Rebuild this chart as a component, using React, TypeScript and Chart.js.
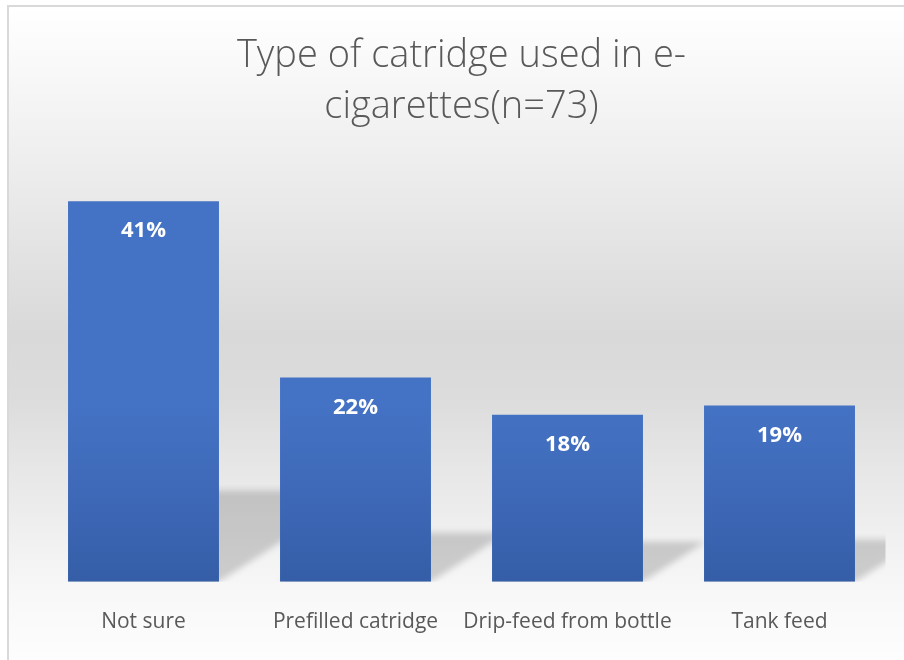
import React, { useEffect, useRef } from "react";
import { Chart, registerables } from "chart.js";

Chart.register(...registerables);

const categories = ["Not sure", "Prefilled catridge", "Drip-feed from bottle", "Tank feed"];
const values = [41, 22, 18, 19];
const valueLabels = ["41%", "22%", "18%", "19%"];
const titleLines = ["Type of catridge used in e-", "cigarettes(n=73)"];
const axisMax = 45;

const FONT = "'Open Sans', 'Noto Sans', sans-serif";

const backgroundPlugin = {
  id: "bgPlugin",
  beforeDraw(chart: any) {
    const { ctx, width, height } = chart;
    ctx.save();
    ctx.fillStyle = "#ffffff";
    ctx.fillRect(0, 0, width, height);
    const g = ctx.createLinearGradient(0, 6, 0, height);
    g.addColorStop(0, "#ffffff");
    g.addColorStop(0.06, "#fbfbfb");
    g.addColorStop(0.26, "#ececec");
    g.addColorStop(0.5, "#d9d9d9");
    g.addColorStop(0.6, "#dcdcdc");
    g.addColorStop(0.7, "#e6e6e6");
    g.addColorStop(0.9, "#f8f8f8");
    g.addColorStop(1, "#fdfdfd");
    ctx.fillStyle = g;
    ctx.fillRect(8, 6, width - 8, height - 6);
    ctx.strokeStyle = "#d9d9d9";
    ctx.lineWidth = 2;
    ctx.beginPath();
    ctx.moveTo(8, height);
    ctx.lineTo(8, 6);
    ctx.lineTo(width, 6);
    ctx.stroke();
    ctx.restore();
  },
};

const shadowPlugin = {
  id: "shadowPlugin",
  beforeDatasetsDraw(chart: any) {
    const { ctx, chartArea } = chart;
    const meta = chart.getDatasetMeta(0);
    ctx.save();
    ctx.beginPath();
    ctx.rect(chartArea.left, chartArea.top, chartArea.right - chartArea.left, chartArea.bottom - chartArea.top);
    ctx.clip();
    ctx.filter = "blur(3px)";
    ctx.fillStyle = "rgba(0,0,0,0.17)";
    meta.data.forEach((el: any) => {
      const p = el.getProps(["x", "y", "base", "width"], true);
      const left = p.x - p.width / 2;
      const right = p.x + p.width / 2;
      const h = p.base - p.y;
      const sh = h * 0.24;
      const dx = sh * 1.55;
      ctx.beginPath();
      ctx.moveTo(left, p.base);
      ctx.lineTo(right, p.base);
      ctx.lineTo(right + dx, p.base - sh);
      ctx.lineTo(left + dx, p.base - sh);
      ctx.closePath();
      ctx.fill();
    });
    ctx.restore();
    meta.data.forEach((el: any) => {
      const p = el.getProps(["y", "base"], true);
      const g = ctx.createLinearGradient(0, p.y, 0, p.base);
      g.addColorStop(0, "#4472c4");
      g.addColorStop(0.45, "#3f6ab9");
      g.addColorStop(1, "#355ea7");
      el.options.backgroundColor = g;
    });
  },
};

const labelPlugin = {
  id: "labelPlugin",
  afterDatasetsDraw(chart: any) {
    const { ctx } = chart;
    const meta = chart.getDatasetMeta(0);
    ctx.save();
    ctx.fillStyle = "#ffffff";
    ctx.font = `bold 22px ${FONT}`;
    ctx.textAlign = "center";
    ctx.textBaseline = "middle";
    meta.data.forEach((el: any, i: number) => {
      const p = el.getProps(["x", "y"], true);
      ctx.fillText(valueLabels[i], p.x, p.y + 30);
    });
    ctx.restore();
  },
};

export default function App() {
  const ref = useRef<HTMLCanvasElement | null>(null);
  useEffect(() => {
    if (!ref.current) return;
    const chart = new Chart(ref.current, {
      type: "bar",
      data: {
        labels: categories,
        datasets: [
          {
            data: values,
            backgroundColor: "#4472c4",
            borderWidth: 0,
            barPercentage: 0.712,
            categoryPercentage: 1,
          },
        ],
      },
      options: {
        animation: false,
        responsive: false,
        maintainAspectRatio: false,
        devicePixelRatio: 1,
        layout: { padding: { left: 37.5, right: 18.5, top: 0, bottom: -3 } },
        plugins: {
          legend: { display: false },
          tooltip: { enabled: false },
          title: {
            display: true,
            text: titleLines,
            color: "#595959",
            font: { family: FONT, size: 38, weight: "300", lineHeight: 51 / 38 },
            padding: { top: 31, bottom: 31 },
          },
        },
        scales: {
          y: { display: false, min: 0, max: axisMax },
          x: {
            grid: { display: false, drawTicks: false },
            border: { display: false },
            ticks: {
              color: "#595959",
              font: { family: FONT, size: 21, lineHeight: 1.2 },
              padding: 28,
              maxRotation: 0,
              autoSkip: false,
            },
          },
        },
      },
      plugins: [backgroundPlugin, shadowPlugin, labelPlugin],
    });
    return () => chart.destroy();
  }, []);
  return (
    <div style={{ position: "fixed", left: 0, top: 0, width: 904, height: 660 }}>
      <canvas ref={ref} width={904} height={660} style={{ display: "block" }} />
    </div>
  );
}
